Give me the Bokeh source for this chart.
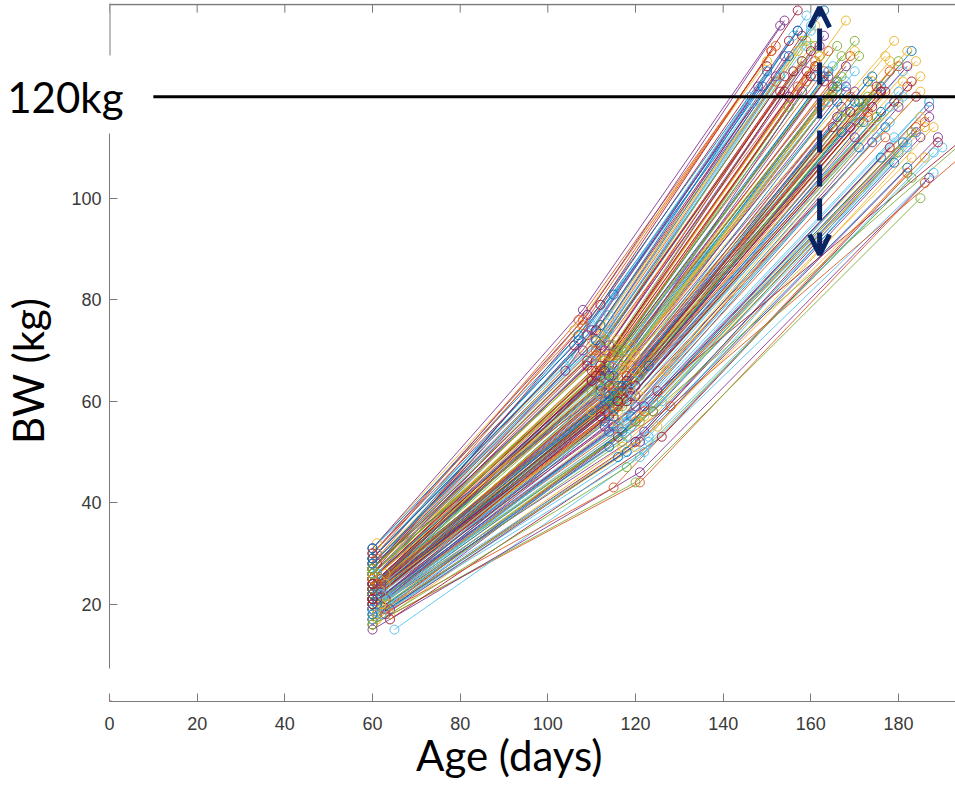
import math
from bokeh.plotting import figure
from bokeh.models import Range1d, LinearAxis, FixedTicker, Arrow, OpenHead
from bokeh.embed import file_html
from bokeh.resources import INLINE

# ---- data: body weight (kg) of pigs at three weighings ----
age_1 = [60,60,61,60,62,60,60,61,60,63,60,60,62,60,61,60,60,64,60,60,61,60,60,62,60,60,60,61,60,60,
         63,60,60,60,62,60,60,61,60,60,65,60,60,61,60,60,62,60,60,60,61,60,60,60,63,60,60,60,62,60,
         60,61,60,60,60,64,60,60,60,62,60,60,61,60,60,60,63,60,60,60,61,60,60,60,62,60,60,60,61,60,
         60,60,63,60,60,60,62,60,60,61,60,60,60,60,64,60,60,60,62,60,60,60,61,60,60,60,63,60,60,60,
         60,62,60,60,61,60,60,60,60,60,
         60,61,60,60,62,60,60,60,61,60,60,60,63,60,60,60,60,61,60,62,60,60,60,61,60,60,60,63,60,60,
         60,61,60,60,62,60,60,60,60,61,60,60,60,64,60,60,60,61,60,60,62,60,60,60,60,61,60,60,60,60]
bw_1 = [22,25,19,28,21,24,17,26,23,20,27,21,18,30,24,22,26,19,23,20,28,25,16,22,27,21,24,18,29,23,
        26,19,22,31,25,20,24,17,27,21,15,26,23,20,28,22,24,18,25,21,29,23,19,26,22,24,17,27,20,25,
        22,30,23,20,26,18,24,21,28,23,19,25,32,22,16,27,21,24,20,26,23,18,29,22,25,21,27,15,24,20,
        26,23,19,28,22,25,18,24,21,30,23,20,26,22,17,25,19,27,24,21,29,23,18,26,22,31,20,24,21,27,
        19,23,25,22,20,26,24,17,23,28,
        24,21,27,19,25,22,30,20,26,23,18,28,24,21,26,17,29,22,25,20,27,23,19,24,31,21,26,18,24,28,
        22,20,25,27,23,16,26,21,29,24,22,19,27,21,25,23,30,18,24,26,22,20,28,23,25,21,27,19,24,22]
age_2 = [112,114,116,108,118,113,120,110,115,122,111,117,119,106,114,116,112,124,113,118,109,115,121,117,110,114,120,116,107,112,
         118,122,115,105,113,119,111,117,114,116,121,109,118,113,112,120,115,123,110,114,108,117,115,113,119,112,116,111,121,114,
         116,104,118,113,115,125,110,117,113,120,114,112,106,116,120,111,118,115,122,114,113,117,110,119,112,115,116,121,114,118,
         109,116,120,112,113,117,123,111,115,107,119,114,116,112,126,113,116,110,118,115,114,120,118,111,117,108,124,112,125,115,
         128,127,104,121,126,112,123,115,110,113,
         114,119,112,117,116,113,109,121,115,118,114,110,120,112,117,122,111,115,119,116,113,110,118,112,107,116,120,121,113,114,
         117,115,111,119,114,118,110,116,112,118,121,113,115,123,112,117,108,120,114,116,119,112,111,115,118,122,113,116,110,114]
bw_2 = [62,66,58,70,60,64,52,68,63,57,72,61,55,71,65,60,69,58,62,56,73,67,44,63,74,59,64,53,72,61,
        70,54,60,68,66,57,65,51,71,62,49,67,63,58,75,59,64,53,66,60,76,65,55,68,61,63,49,70,57,67,
        61,67,62,56,69,55,64,59,73,63,54,66,74,60,44,71,60,65,58,69,62,52,75,61,65,58,72,46,64,57,
        68,63,56,73,60,67,52,65,59,76,63,57,70,61,53,66,55,72,65,60,77,61,50,69,62,78,58,64,62,81,
        59,66,66,65,60,79,67,43,58,62,
        66,60,71,54,68,62,77,56,67,64,51,70,66,58,70,50,74,61,67,56,70,62,53,65,73,59,69,52,64,74,
        62,57,66,71,63,47,68,60,75,65,61,55,71,60,67,63,75,51,65,69,62,57,72,62,68,59,72,55,64,61]
age_3 = [168,162,175,152,180,170,184,158,165,186,154,172,182,150,166,176,160,187,168,179,155,163,186,174,157,171,181,178,149,164,
         170,185,167,146,161,177,159,183,163,173,188,156,176,169,161,180,166,184,153,170,151,178,174,162,181,165,179,158,185,168,
         172,147,177,167,164,188,155,175,160,183,171,163,150,169,185,159,179,166,186,162,170,180,156,182,161,173,168,187,165,178,
         154,174,184,158,167,171,190,160,176,152,181,169,166,163,189,164,177,157,182,172,159,184,182,161,175,153,196,168,198,163,
         194,185,148,180,187,157,183,182,162,158,
         167,178,160,181,169,164,154,183,165,175,176,152,184,166,170,188,158,171,180,174,162,155,182,163,150,173,182,189,166,160,
         176,172,157,179,168,183,153,174,157,178,185,170,161,187,159,173,151,186,164,167,180,165,155,169,177,187,159,175,154,166]
bw_3 = [121,118,116,124,119,125,113,127,120,114,128,118,111,126,122,121,130,116,117,112,131,124,103,123,133,115,125,110,122,119,
        129,112,116,120,126,114,123,108,132,120,105,125,122,117,134,118,121,113,121,119,129,127,111,128,120,122,107,127,116,126,
        118,119,121,113,129,114,120,116,133,123,110,125,127,117,100,130,119,123,115,128,121,109,132,122,124,116,135,104,121,115,
        124,124,114,131,118,128,110,124,117,130,123,114,130,119,111,125,112,129,126,119,136,120,106,127,120,134,112,123,114,137,
        108,124,122,127,119,137,129,105,118,121,
        124,118,129,111,128,120,135,113,126,122,108,123,127,116,131,109,132,119,126,114,130,118,110,123,125,117,129,112,123,134,
        121,115,122,131,122,104,124,118,133,125,121,112,130,119,125,123,129,108,124,128,121,114,128,120,128,118,131,112,121,119]

origin_age = [0]
origin_bw = [0]

threshold_bw = 120
threshold_label = "120kg"
threshold_from_age = 10
threshold_to_age = 200

arrow_age = 162
arrow_bw = [88.9, 137.6]

x_ticks = [0, 20, 40, 60, 80, 100, 120, 140, 160, 180, 200]
y_ticks = [20, 40, 60, 80, 100]

x_title = "Age (days)"
x_title_at = 91.2
y_title = "BW (kg)"
y_title_at = 66.0

# visible pieces of the left axis line (it is interrupted by the 120kg label box)
y_axis_lower = (7.3, 112.7)
y_axis_upper = (128.1, 140.0)
box_top_bw = 138.15
box_x = (0, 200)
top_tick_len_bw = 1.6

PALETTE = ["#0072BD", "#D95319", "#EDB120", "#7E2F8E", "#77AC30", "#4DBEEE", "#A2142F"]

# ---- figure ----
p = figure(width=955, height=793, output_backend="svg", toolbar_location=None,
           x_range=Range1d(0, 193), y_range=Range1d(0.83, 138.36),
           min_border_left=108, min_border_right=0, min_border_top=3, min_border_bottom=92)
p.outline_line_color = None
p.grid.visible = False
p.background_fill_color = "white"
p.border_fill_color = "white"

AX_COL = "#7a7a7a"
LAB_COL = "#3a3a3a"
TITLE_FONT = "Lato"

def style_axis(ax):
    ax.axis_line_color = AX_COL
    ax.axis_line_width = 1
    ax.major_tick_line_color = AX_COL
    ax.major_tick_in = 8
    ax.major_tick_out = 0
    ax.minor_tick_line_color = None
    ax.major_label_text_font = "Liberation Sans"
    ax.major_label_text_font_size = "18px"
    ax.major_label_text_color = LAB_COL

def text_axis(ax, size="42px"):
    ax.axis_line_color = None
    ax.major_tick_line_color = None
    ax.minor_tick_line_color = None
    ax.major_tick_in = 0
    ax.major_tick_out = 0
    ax.major_label_text_font = TITLE_FONT
    ax.major_label_text_font_size = size
    ax.major_label_text_color = "black"

xa = p.xaxis[0]
ya = p.yaxis[0]
xa.ticker = FixedTicker(ticks=x_ticks)
ya.ticker = FixedTicker(ticks=y_ticks)
style_axis(xa)
style_axis(ya)
xa.major_label_standoff = 15
ya.major_label_standoff = 8
ya.bounds = y_axis_lower

# "120kg" label (outer left axis with a single tick)
thr_axis = LinearAxis(ticker=FixedTicker(ticks=[threshold_bw]),
                      major_label_overrides={threshold_bw: threshold_label})
text_axis(thr_axis)
thr_axis.major_label_standoff = -55
p.add_layout(thr_axis, "left")

# y title
ytitle_axis = LinearAxis(ticker=FixedTicker(ticks=[y_title_at]),
                         major_label_overrides={y_title_at: y_title})
text_axis(ytitle_axis)
ytitle_axis.major_label_orientation = "parallel"
ytitle_axis.major_label_standoff = -49
p.add_layout(ytitle_axis, "left")

# x title
xtitle_axis = LinearAxis(ticker=FixedTicker(ticks=[x_title_at]),
                         major_label_overrides={x_title_at: x_title})
text_axis(xtitle_axis)
xtitle_axis.major_label_standoff = -3
p.add_layout(xtitle_axis, "below")

# ---- growth curves ----
n = len(age_1)
xs = [[age_1[i], age_2[i], age_3[i]] for i in range(n)]
ys = [[bw_1[i], bw_2[i], bw_3[i]] for i in range(n)]
cols = [PALETTE[i % len(PALETTE)] for i in range(n)]
p.multi_line(xs=xs, ys=ys, line_color=cols, line_width=1.0, line_alpha=0.85)

px, py, pc = [], [], []
for i in range(n):
    px += xs[i]
    py += ys[i]
    pc += [cols[i]] * 3
p.scatter(px, py, marker="circle", size=9, fill_color=None, line_color=pc, line_width=1, line_alpha=0.9)

p.scatter(origin_age, origin_bw, marker="circle", size=9, fill_color=None, line_color="#D95319", line_width=2)

# box edges: upper piece of the left axis line, the top edge and its inward ticks
p.segment(x0=[0], y0=[y_axis_upper[0]], x1=[0], y1=[y_axis_upper[1]], line_color=AX_COL, line_width=2)
p.segment(x0=[box_x[0]], y0=[box_top_bw], x1=[box_x[1]], y1=[box_top_bw], line_color=AX_COL, line_width=1.5)
p.segment(x0=x_ticks, y0=[box_top_bw] * len(x_ticks), x1=x_ticks,
          y1=[box_top_bw - top_tick_len_bw] * len(x_ticks), line_color=AX_COL, line_width=1)

# ---- 120 kg threshold ----
p.segment(x0=[threshold_from_age], y0=[threshold_bw], x1=[threshold_to_age], y1=[threshold_bw],
          line_color="black", line_width=3)

NAVY = "#0b2462"
p.add_layout(Arrow(x_start=arrow_age, y_start=arrow_bw[0], x_end=arrow_age, y_end=arrow_bw[1],
                   line_color=NAVY, line_width=5, line_dash="22 12",
                   start=OpenHead(size=20, line_color=NAVY, line_width=5),
                   end=OpenHead(size=20, line_color=NAVY, line_width=5)))

open("out.html", "w").write(file_html(p, INLINE))
